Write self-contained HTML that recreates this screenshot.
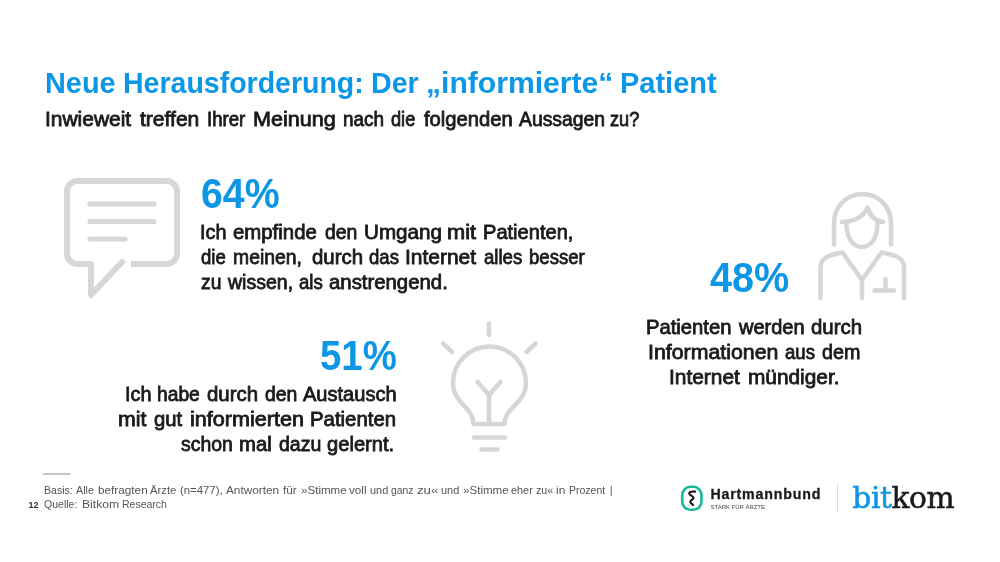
<!DOCTYPE html>
<html lang="de">
<head>
<meta charset="utf-8">
<title>Neue Herausforderung: Der „informierte“ Patient</title>
<style>
  html, body { margin: 0; padding: 0; }
  body { width: 1000px; height: 562px; overflow: hidden; background: #ffffff;
         font-family: "Liberation Sans", sans-serif; color: #1a1a1a; }
  #slide { position: relative; width: 1000px; height: 562px; overflow: hidden; background: #fff; filter: blur(0.5px); }
  .wl { position: absolute; left: 0; width: 1000px; font-size: 0; line-height: 0; margin: 0; padding: 0; white-space: nowrap; font-weight: 400; }
  .wl span { display: inline-block; vertical-align: top; font-size: var(--fs); line-height: 1; white-space: nowrap; transform-origin: 0 0; }
  h1.wl { font-weight: 700; }
  .ln { position: absolute; white-space: nowrap; line-height: 1; margin: 0; padding: 0; font-weight: 400; }
  .blue { color: #0c96e6; }
  h1.ln { font-weight: 700; }
  .pct { font-weight: 700; transform-origin: 0 0; }
  .body, .sub { -webkit-text-stroke: 0.8px #1a1a1a; }
  .foot { color: #555; }
  .pg { font-size: 9px; font-weight: 700; color: #333; }
  svg { position: absolute; overflow: visible; }
</style>
</head>
<body>
<div id="slide">

  <h1 class="wl blue" id="title" style="top:68.9px; --fs:29px;"><span style="margin-left:44.61px; width:70.91px; transform:scaleX(0.995)">Neue</span> <span style="margin-left:7.9px; width:244.91px; transform:scaleX(0.983)">Herausforderung:</span> <span style="margin-left:2.28px; width:48.36px; transform:scaleX(0.986)">Der</span> <span style="margin-left:6.96px; width:180.47px; transform:scaleX(1.038)">„informierte“</span> <span style="margin-left:13.6px; width:96.69px; transform:scaleX(1.000)">Patient</span></h1>
  <p class="wl sub" id="sub" style="top:110.1px; --fs:19.8px;"><span style="margin-left:44.94px; width:81.36px; transform:scaleX(1.059)">Inwieweit</span> <span style="margin-left:14.1px; width:55.72px; transform:scaleX(1.064)">treffen</span> <span style="margin-left:10.94px; width:40.67px; transform:scaleX(0.938)">Ihrer</span> <span style="margin-left:5.18px; width:75.88px; transform:scaleX(1.091)">Meinung</span> <span style="margin-left:14.25px; width:42.89px; transform:scaleX(0.959)">nach</span> <span style="margin-left:5.43px; width:26.4px; transform:scaleX(0.920)">die</span> <span style="margin-left:6.64px; width:86.9px; transform:scaleX(1.020)">folgenden</span> <span style="margin-left:8px; width:87.98px; transform:scaleX(0.978)">Aussagen</span> <span style="margin-left:3.05px; width:31.89px; transform:scaleX(0.920)">zu?</span></p>

  <!-- speech bubble icon -->
  <svg id="ic-bubble" width="1000" height="562" viewBox="0 0 1000 562" style="left:0;top:0">
    <g fill="none" stroke="#d7d7d7" stroke-linejoin="round">
      <path stroke-width="6" stroke-linecap="butt" d="M124 260 L91 295 L91 264 L77.5 264 A10.5 10.5 0 0 1 67 253.5 L67 191.5 A10.5 10.5 0 0 1 77.5 181 L166.5 181 A10.5 10.5 0 0 1 177 191.5 L177 253.5 A10.5 10.5 0 0 1 166.5 264 L131 264"/>
      <path stroke-width="5.2" stroke-linecap="round" d="M90 204 H154 M90 221.5 H154 M90 239 H125"/>
    </g>
  </svg>

  <div class="ln pct blue" id="p64" style="left:201.08px; top:172.95px; font-size:42.5px; letter-spacing:0px; transform:scaleX(0.9247);">64%</div>
  <p class="wl body" id="a1" style="top:221.9px; --fs:20.2px;"><span style="margin-left:200.42px; width:26.93px; transform:scaleX(0.980)">Ich</span> <span style="margin-left:5.65px; width:83.05px; transform:scaleX(1.009)">empfinde</span> <span style="margin-left:8.95px; width:33.68px; transform:scaleX(0.961)">den</span> <span style="margin-left:5.3px; width:76.3px; transform:scaleX(1.021)">Umgang</span> <span style="margin-left:6.44px; width:26.91px; transform:scaleX(1.080)">mit</span> <span style="margin-left:9.78px; width:90.91px; transform:scaleX(0.994)">Patienten,</span></p>
  <p class="wl body" id="a2" style="top:246.9px; --fs:20.2px;"><span style="margin-left:201.4px; width:26.94px; transform:scaleX(0.920)">die</span> <span style="margin-left:4.5px; width:71.82px; transform:scaleX(0.959)">meinen,</span> <span style="margin-left:7.14px; width:50.5px; transform:scaleX(1.011)">durch</span> <span style="margin-left:6.57px; width:32.55px; transform:scaleX(0.920)">das</span> <span style="margin-left:3.34px; width:68.46px; transform:scaleX(1.038)">Internet</span> <span style="margin-left:10.42px; width:41.52px; transform:scaleX(0.920)">alles</span> <span style="margin-left:3.58px; width:60.59px; transform:scaleX(0.920)">besser</span></p>
  <p class="wl body" id="a3" style="top:271.9px; --fs:20.2px;"><span style="margin-left:201.4px; width:21.32px; transform:scaleX(0.956)">zu</span> <span style="margin-left:5.65px; width:67.31px; transform:scaleX(0.967)">wissen,</span> <span style="margin-left:2.99px; width:25.81px; transform:scaleX(0.920)">als</span> <span style="margin-left:4.52px; width:117.85px; transform:scaleX(1.008)">anstrengend.</span></p>

  <div class="ln pct blue" id="p51" style="left:319.9px; top:335.05px; font-size:42.5px; letter-spacing:0px; transform:scaleX(0.9031);">51%</div>
  <p class="wl body" id="b1" style="top:384.4px; --fs:20.2px;"><span style="margin-left:125.42px; width:26.93px; transform:scaleX(0.980)">Ich</span> <span style="margin-left:4.7px; width:44.91px; transform:scaleX(0.952)">habe</span> <span style="margin-left:5.44px; width:50.5px; transform:scaleX(1.011)">durch</span> <span style="margin-left:6.9px; width:33.68px; transform:scaleX(0.961)">den</span> <span style="margin-left:4.32px; width:94.26px; transform:scaleX(0.993)">Austausch</span></p>
  <p class="wl body" id="b2" style="top:409.3px; --fs:20.2px;"><span style="margin-left:117.74px; width:26.91px; transform:scaleX(1.057)">mit</span> <span style="margin-left:9.35px; width:28.06px; transform:scaleX(1.005)">gut</span> <span style="margin-left:7.67px; width:106.59px; transform:scaleX(1.069)">informierten</span> <span style="margin-left:14.07px; width:85.3px; transform:scaleX(1.009)">Patienten</span></p>
  <p class="wl body" id="b3" style="top:434.3px; --fs:20.2px;"><span style="margin-left:181.4px; width:53.87px; transform:scaleX(0.961)">schon</span> <span style="margin-left:4.12px; width:32.53px; transform:scaleX(1.005)">mal</span> <span style="margin-left:7.48px; width:43.78px; transform:scaleX(0.968)">dazu</span> <span style="margin-left:4.22px; width:67.33px; transform:scaleX(0.998)">gelernt.</span></p>

  <!-- light bulb icon -->
  <svg id="ic-bulb" width="1000" height="562" viewBox="0 0 1000 562" style="left:0;top:0">
    <g fill="none" stroke="#d6d6d6" stroke-width="4.5" stroke-linecap="round" stroke-linejoin="round">
      <path d="M473.5 424 C473 406 453 404 453 383 A36.5 36.5 0 0 1 526 383 C526 404 505 406 504.5 424 Z"/>
      <path d="M489 424 V395 M489 395 L477.5 382 M489 395 L500.5 382"/>
      <path d="M474 437.5 H505"/>
      <path d="M481.5 449.5 H497.5"/>
      <path d="M489 323.5 V335"/>
      <path d="M443 343.5 L452 352"/>
      <path d="M535.5 343.5 L526.5 352"/>
    </g>
  </svg>

  <div class="ln pct blue" id="p48" style="left:709.5px; top:257.25px; font-size:42.5px; letter-spacing:0px; transform:scaleX(0.9315);">48%</div>
  <p class="wl body" id="c1" style="top:317.2px; --fs:20.2px;"><span style="margin-left:646.4px; width:85.3px; transform:scaleX(1.002)">Patienten</span> <span style="margin-left:7.49px; width:66.21px; transform:scaleX(0.991)">werden</span> <span style="margin-left:6px; width:50.5px; transform:scaleX(1.011)">durch</span></p>
  <p class="wl body" id="c2" style="top:342.2px; --fs:20.2px;"><span style="margin-left:648.34px; width:123.44px; transform:scaleX(1.056)">Informationen</span> <span style="margin-left:13.29px; width:32.55px; transform:scaleX(0.920)">aus</span> <span style="margin-left:4.38px; width:39.27px; transform:scaleX(0.978)">dem</span></p>
  <p class="wl body" id="c3" style="top:367.2px; --fs:20.2px;"><span style="margin-left:669.37px; width:68.46px; transform:scaleX(1.035)">Internet</span> <span style="margin-left:10.54px; width:88.65px; transform:scaleX(1.032)">mündiger.</span></p>

  <!-- doctor icon -->
  <svg id="ic-doc" width="1000" height="562" viewBox="0 0 1000 562" style="left:0;top:0">
    <g fill="none" stroke="#d6d6d6" stroke-width="4.5" stroke-linecap="round" stroke-linejoin="round">
      <path d="M834 244.5 V222.5 A28.5 28.5 0 0 1 891 222.5 V244.5"/>
      <path d="M842 222 C855 222 864 216 867.5 207.5 C870 216 876 221 883 222"/>
      <path d="M846.5 223 C846.5 238 853 247 862 247 C871 247 877.5 238 877.5 223"/>
      <path d="M820.5 298 V268 C820.5 258 828 255 842.5 252.5 L862 280 L881.5 252.5 C896 255 904 258 904 268 V298"/>
      <path d="M862 280 V298"/>
      <path d="M874.5 290.5 H894 M885.5 279 V290"/>
    </g>
  </svg>

  <!-- footer -->
  <div id="rule" style="position:absolute; left:43px; top:473px; width:27px; height:1.5px; background:#c4c4c4;"></div>
  <p class="wl foot" id="f1" style="top:485.15px; --fs:11.3px;"><span style="margin-left:44.4px; width:30.76px; transform:scaleX(0.934)">Basis:</span> <span style="margin-left:1.24px; width:18.84px; transform:scaleX(0.949)">Alle</span> <span style="margin-left:2.36px; width:47.74px; transform:scaleX(1.041)">befragten</span> <span style="margin-left:4.66px; width:26.37px; transform:scaleX(0.997)">Ärzte</span> <span style="margin-left:3.63px; width:42.39px; transform:scaleX(1.004)">(n=477),</span> <span style="margin-left:3.21px; width:50.86px; transform:scaleX(1.044)">Antworten</span> <span style="margin-left:6.54px; width:13.18px; transform:scaleX(1.043)">für</span> <span style="margin-left:4.82px; width:44.57px; transform:scaleX(1.025)">»Stimme</span> <span style="margin-left:3.43px; width:16.95px; transform:scaleX(1.034)">voll</span> <span style="margin-left:4.05px; width:18.85px; transform:scaleX(0.970)">und</span> <span style="margin-left:2.02px; width:24.5px; transform:scaleX(0.920)">ganz</span> <span style="margin-left:1.63px; width:18.21px; transform:scaleX(1.171)">zu«</span> <span style="margin-left:5.79px; width:18.85px; transform:scaleX(0.970)">und</span> <span style="margin-left:3.15px; width:44.57px; transform:scaleX(1.025)">»Stimme</span> <span style="margin-left:3.43px; width:22.61px; transform:scaleX(0.963)">eher</span> <span style="margin-left:2.39px; width:18.21px; transform:scaleX(0.948)">zu«</span> <span style="margin-left:1.79px; width:8.79px; transform:scaleX(1.058)">in</span> <span style="margin-left:4.21px; width:38.93px; transform:scaleX(0.930)">Prozent</span> <span style="margin-left:2.07px; width:2.93px; transform:scaleX(1.000)">|</span></p>
  <p class="wl foot" id="f2" style="top:498.85px; --fs:11.3px;"><span style="margin-left:44.4px; width:35.79px; transform:scaleX(0.931)">Quelle:</span> <span style="margin-left:2.21px; width:34.52px; transform:scaleX(1.073)">Bitkom</span> <span style="margin-left:5.48px; width:48.35px; transform:scaleX(0.928)">Research</span></p>
  <div class="ln pg" id="pg" style="left:28.5px; top:501px;">12</div>

  <!-- Hartmannbund logo -->
  <svg id="ic-hb" width="1000" height="562" viewBox="0 0 1000 562" style="left:0;top:0">
    <rect x="682.2" y="486.8" width="19.3" height="23" rx="8" ry="8.6" fill="#fff" stroke="#14b996" stroke-width="2.6"/>
    <path d="M695 491.6 C691 491.2 688.6 492.4 689.4 494 C690.4 495.8 694 496.4 693.6 498 C693.2 499.6 689.8 500.4 690.2 502 C690.6 503.4 692.4 504 693 505" fill="none" stroke="#151515" stroke-width="2.1" stroke-linecap="round" stroke-linejoin="round"/>
  </svg>
  <div class="ln" id="hb" style="left:710.5px; top:487.2px; font-size:14.2px; letter-spacing:0.81px; font-weight:700; color:#1a1a1a; -webkit-text-stroke:0.3px #1a1a1a;">Hartmannbund</div>
  <div class="ln" id="tag" style="left:710.5px; top:504px; font-size:6px; letter-spacing:-0.03px; color:#444;">STARK FÜR ÄRZTE</div>
  <div id="divider" style="position:absolute; left:837px; top:484px; width:1.3px; height:27.5px; background:#dcdcdc;"></div>
  <div class="ln" id="bitkom" style="left:852.3px; top:482.7px; font-family:'DejaVu Serif','Liberation Serif',serif; font-size:29.7px; letter-spacing:-0.4px; color:#1a1a1a; -webkit-text-stroke:0.55px #1a1a1a;"><span class="blue" style="-webkit-text-stroke:0.55px #0c96e6;">bit</span>kom</div>

</div>
</body>
</html>
